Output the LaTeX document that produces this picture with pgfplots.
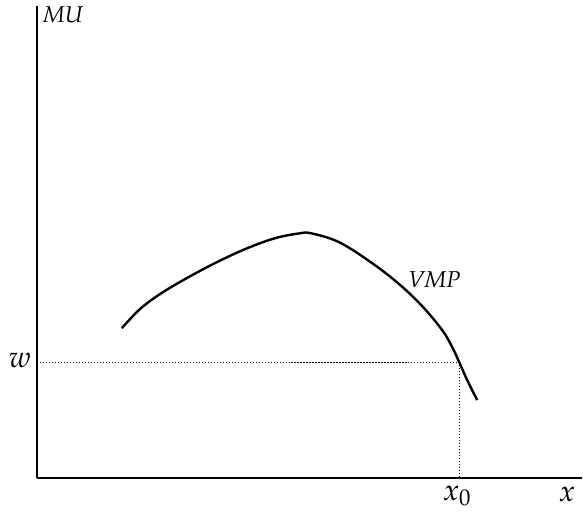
\documentclass[border=0pt]{standalone}
\usepackage[T1]{fontenc}
\usepackage{mathpazo}
\usepackage{pgfplots}
\pgfplotsset{compat=1.18}

\begin{document}
\begin{tikzpicture}
\begin{axis}[
    x=0.5pt, y=0.5pt,
    xmin=0, xmax=546, ymin=0, ymax=473,
    axis lines=left,
    axis line style={-, line width=1pt},
    ticks=none,
    clip=false,
]
% VMP curve
\addplot[black, line width=1.2pt, smooth, tension=0.6] coordinates {
    (85,150) (103,169) (123,184) (148,199) (178,215) (208,229)
    (238,240) (263,245) (275,245) (303,236) (336,215) (363,194)
    (386,172) (406,148) (416,131) (423,116) (431,98) (441,78)};
% guide lines at w and x0
\addplot[black, line width=0.6pt, dash pattern=on 0.6pt off 0.9pt]
    coordinates {(0,116) (423,116) (423,0)};

\node[font=\fontsize{11.5}{13}\selectfont\itshape] at (axis cs:26,464) {MU};
\node[font=\fontsize{11.5}{13}\selectfont\itshape] at (axis cs:398,199) {VMP};
\node[font=\fontsize{15}{17}\selectfont] at (axis cs:-17,118) {$w$};
\node[font=\fontsize{15}{17}\selectfont] at (axis cs:421,-18) {$x_0$};
\node[font=\fontsize{15}{17}\selectfont] at (axis cs:531,-16) {$x$};
\path (axis cs:-37,-30) rectangle (axis cs:546,478);
\end{axis}
\end{tikzpicture}
\end{document}
